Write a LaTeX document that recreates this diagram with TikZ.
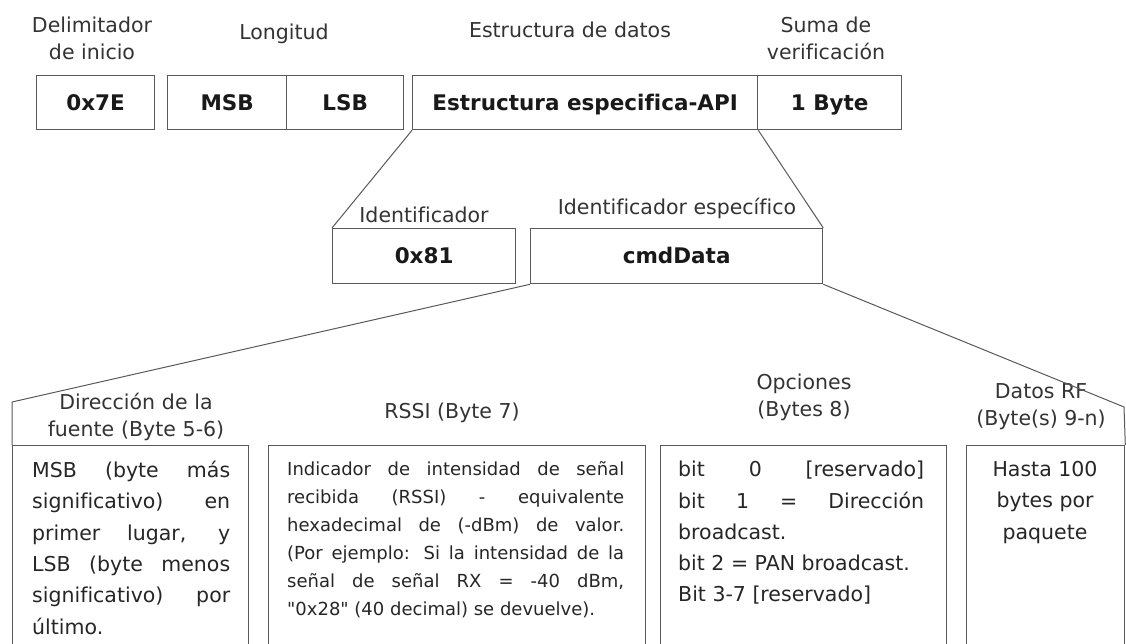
\documentclass[tikz,border=0pt]{standalone}
\usepackage{fontspec}
\setmainfont{DejaVu Sans}[Ligatures={TeXOff,CommonOff}]
\usetikzlibrary{calc}
\newcommand{\lblfont}{\fontsize{20.5}{27}\selectfont}
\newcommand{\fldfont}{\fontsize{21.5}{26}\selectfont\bfseries}
\newcommand{\txtfont}{\fontsize{20.5}{31.3}\selectfont}
\newcommand{\rssifont}{\fontsize{18}{28}\selectfont}
\tikzset{
	field/.style={draw=black!65, line width=1.3pt, inner sep=0pt, anchor=north west, text=black!90, font=\fldfont, text height=15.5pt, text depth=0pt},
	cell/.style={draw=black!65, line width=1.3pt, inner sep=0pt, anchor=north west},
	head/.style={inner sep=0pt, align=center, text=black!80, font=\lblfont},
	body/.style={inner sep=0pt, anchor=north west, align=justify, text=black!85, font=\txtfont},
	link/.style={draw=black!65, line width=1pt},
}

\begin{document}
\begin{tikzpicture}[x=1pt, y=-1pt]
			%%%%% START %%%%%
			\clip (0,0) rectangle (1126,644);
			
			% trama API
			\node[head] (hdelim) at (92,38) {Delimitador\\de inicio};
			\node[head] (hlong) at (284,34) {Longitud};
			\node[head] (hestr) at (570,30) {Estructura de datos};
			\node[head] (hsuma) at (826,38) {Suma de\\verificación};
			
			\node[field, minimum width=118, minimum height=54] (delim) at (36,75) {0x7E};
			\node[field, minimum width=119, minimum height=54] (msb) at (167,75) {MSB};
			\node[field, minimum width=117, minimum height=54] (lsb) at (286,75) {LSB};
			\node[field, minimum width=345, minimum height=54] (estr) at (412,75) {Estructura especifica-API};
			\node[field, minimum width=144, minimum height=54] (suma) at (757,75) {1 Byte};
			
			% estructura especifica
			\node[head] (hident) at (424,215) {Identificador};
			\node[head] (hcmd) at (677,208) {Identificador específico};
			
			\node[field, minimum width=183, minimum height=55] (ident) at (332,228) {0x81};
			\node[field, minimum width=292, minimum height=55] (cmd) at (530,228) {cmdData};
			
			\draw[link] (estr.south west) -- (ident.north west);
			\draw[link] (estr.south east) -- (cmd.north east);
			
			% cmdData
			\node[head, text width=240] (hsrc) at (136,417) {Dirección de la\\fuente (Byte 5-6)};
			\node[head] (hrssi) at (452,413) {RSSI (Byte 7)};
			\node[head] (hopt) at (804,397) {Opciones\\(Bytes 8)};
			\node[head] (hrf) at (1041,407) {Datos RF\\(Byte(s) 9-n)};
			
			\node[cell, minimum width=236, minimum height=210] (src) at (12,445) {};
			\node[cell, minimum width=377, minimum height=210] (rssi) at (268,445) {};
			\node[cell, minimum width=286, minimum height=210] (opt) at (660,445) {};
			\node[cell, minimum width=158, minimum height=210] (rf) at (966,445) {};
			
			\coordinate (srcknee) at (12,402);
			\coordinate (rfknee) at (1124,407);
			\draw[link] (cmd.south west) -- (srcknee) -- (src.north west);
			\draw[link] (cmd.south east) -- (rfknee) -- (rf.north east);
			
			\node[body, text width=198] (srctxt) at (32,461) {MSB (byte más\linebreak significativo) en\linebreak primer lugar, y\linebreak LSB (byte menos\linebreak significativo) por\linebreak último.};
			\node[body, text width=337, font=\rssifont] (rssitxt) at (287,461) {Indicador de intensidad de señal\linebreak recibida (RSSI) - equivalente\linebreak hexadecimal de (-dBm) de valor.\linebreak (Por ejemplo: Si la intensidad de la\linebreak señal de señal RX = -40 dBm,\linebreak "0x28" (40 decimal) se devuelve).};
			\node[body, text width=246] (opttxt) at (678,461) {bit 0 [reservado]\linebreak bit 1 = Dirección\linebreak broadcast.\\ bit 2 = PAN broadcast.\\ Bit 3-7 [reservado]};
			\node[body, anchor=north, align=center] (rftxt) at (1045,461) {Hasta 100\\bytes por\\paquete};
			
			%%%%% END %%%%%
\end{tikzpicture}
\end{document}
